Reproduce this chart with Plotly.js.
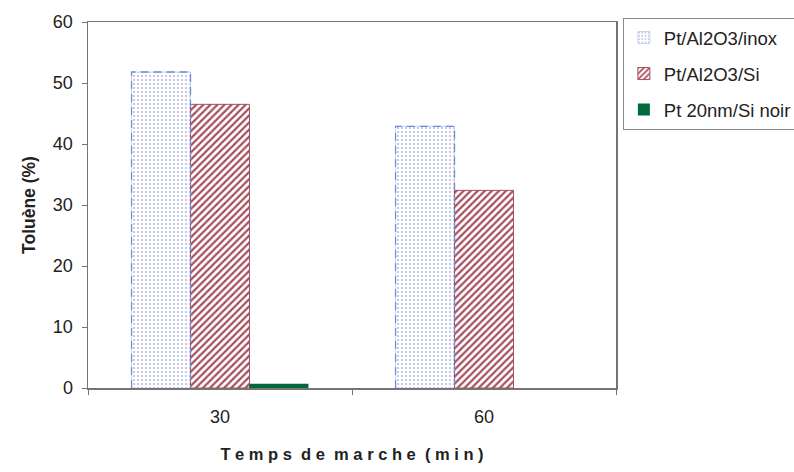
<!DOCTYPE html>
<html>
<head>
<meta charset="utf-8">
<script src="https://cdn.plot.ly/plotly-3.0.1.min.js"></script>
<style>html,body{margin:0;padding:0;background:#fff;}#chart{width:794px;height:472px;}</style>
</head>
<body>
<div id="chart"></div>
<script>
const categories = ['30', '60'];
const seriesNames = ['Pt/Al2O3/inox', 'Pt/Al2O3/Si', 'Pt 20nm/Si noir'];
const inoxValues = [51.8, 42.9];
const siValues = [46.5, 32.4];
const siNoirValues = [0.7, 0];
const yTicks = [0, 10, 20, 30, 40, 50, 60];

const BARGAP = 0.33;
const nTraces = 3;
const barW = (1 - BARGAP) / nTraces;
const FONT = 'Liberation Sans, Arial, sans-serif';

const traces = [
  {
    type: 'bar', name: seriesNames[0], x: categories, y: inoxValues, legendgroup: 'a',
    marker: {color: '#ffffff', line: {width: 1, color: '#c9d4f0'},
      pattern: {shape: '.', fgcolor: '#b4b4e4', bgcolor: '#ffffff', size: 4, solidity: 0.2}}
  },
  {
    type: 'bar', name: seriesNames[1], x: categories, y: siValues, legendgroup: 'b',
    marker: {color: '#ffffff', line: {width: 1, color: '#a5505c'},
      pattern: {shape: '/', fgcolor: '#a5505c', bgcolor: '#ffffff', size: 5, solidity: 0.45}}
  },
  {
    type: 'bar', name: seriesNames[2], x: categories, y: siNoirValues, legendgroup: 'c',
    marker: {color: '#006a3c', line: {width: 0}}
  }
];

// dashed outline for first series, derived from its values
const shapes = inoxValues.map((v, i) => {
  const x0 = i - (1 - BARGAP) / 2;
  const x1 = x0 + barW;
  return {type: 'path', xref: 'x', yref: 'y',
    path: `M ${x0} 0 L ${x0} ${v} L ${x1} ${v} L ${x1} 0`,
    line: {color: '#6f90d4', width: 1.3, dash: '8px,5px'}};
});

const layout = {
  width: 794, height: 472,
  margin: {l: 88, r: 178, t: 22, b: 84, autoexpand: false},
  paper_bgcolor: '#ffffff', plot_bgcolor: '#ffffff',
  font: {family: FONT, size: 18, color: '#222222'},
  barmode: 'group', bargap: BARGAP, bargroupgap: 0,
  showlegend: true,
  legend: {x: 1.013, y: 1.011, xanchor: 'left', yanchor: 'top',
    bordercolor: '#8a8a8a', borderwidth: 1, bgcolor: '#ffffff', itemwidth: 30,
    font: {size: 18.5, color: '#222222', family: FONT}, tracegroupgap: 9, traceorder: 'grouped'},
  xaxis: {
    type: 'category', showline: true, linecolor: '#7a7272', linewidth: 1.5, mirror: true,
    ticks: 'outside', ticklen: 5, tickcolor: '#7a7272', tickson: 'boundaries',
    showgrid: false, zeroline: false, ticklabelstandoff: 12,
    tickfont: {size: 18, color: '#222222', family: FONT},
    title: {text: 'T e m p s  d e  m a r c h e  ( m i n )', standoff: 22,
      font: {size: 16.5, color: '#222222', family: FONT, weight: 'bold'}}
  },
  yaxis: {
    range: [0, 60], tickvals: yTicks, showline: true, linecolor: '#7a7272', linewidth: 1.5, mirror: true,
    ticks: 'outside', ticklen: 5, tickcolor: '#7a7272',
    showgrid: false, zeroline: false, ticklabelstandoff: 5,
    tickfont: {size: 18, color: '#222222', family: FONT},
    title: {text: 'Toluène (%)', standoff: 12,
      font: {size: 17.5, color: '#222222', family: FONT, weight: 'bold'}}
  },
  shapes: shapes
};

Plotly.newPlot('chart', traces, layout, {displayModeBar: false, staticPlot: true});
</script>
</body>
</html>
